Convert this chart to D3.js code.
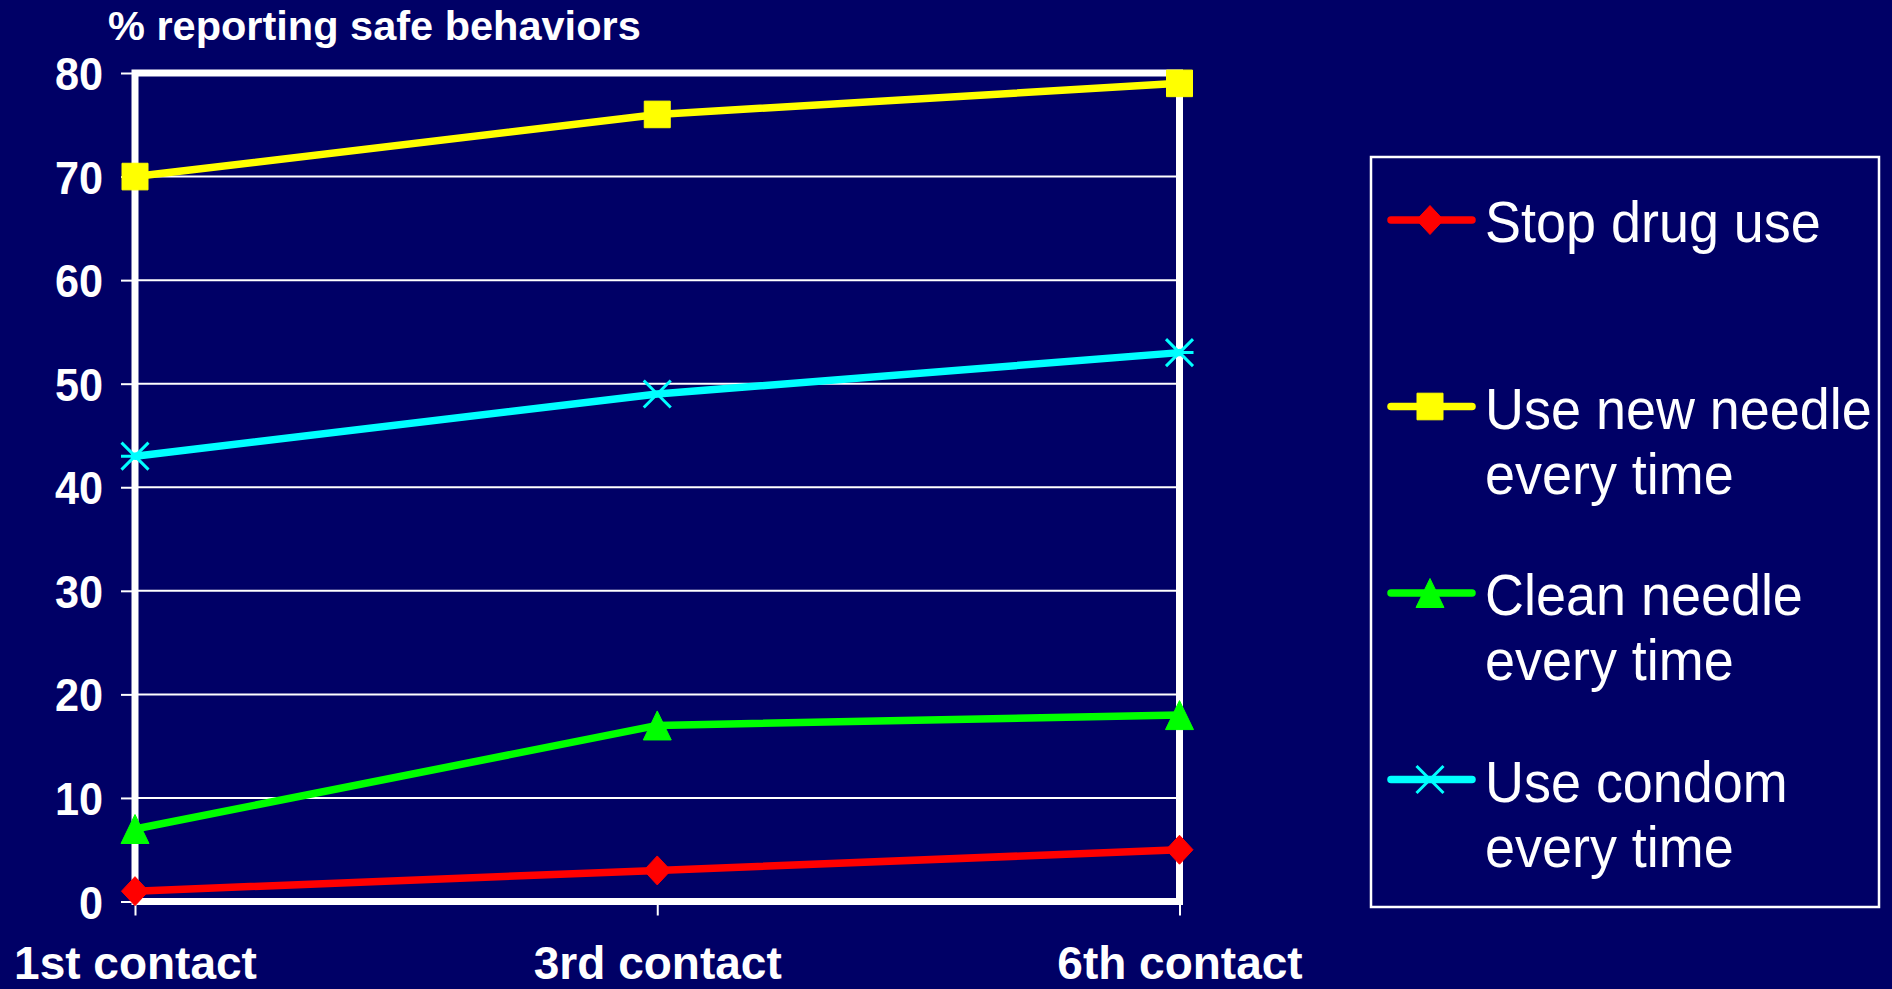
<!DOCTYPE html>
<html>
<head>
<meta charset="utf-8">
<script src="https://cdn.jsdelivr.net/npm/d3@7"></script>
<style>
  html, body { margin: 0; padding: 0; background: #000066; overflow: hidden; }
  svg { display: block; }
</style>
</head>
<body>
<svg id="chart" width="1892" height="989"></svg>
<script>
// Survey contact points
const categories = ["1st contact", "3rd contact", "6th contact"];

// % reporting each safe behavior at each contact
const stopDrugUse   = [1, 3, 5];
const newNeedle     = [70, 76, 79];
const cleanNeedle   = [7, 17, 18];
const useCondom     = [43, 49, 53];

const yTicks = [0, 10, 20, 30, 40, 50, 60, 70, 80];
const titleText = "% reporting safe behaviors";

const seriesNames = ["Stop drug use", "Use new needle every time", "Clean needle every time", "Use condom every time"];
const legendLines = [
  ["Stop drug use"],
  ["Use new needle", "every time"],
  ["Clean needle", "every time"],
  ["Use condom", "every time"]
];

const series = [
  { name: seriesNames[0], values: stopDrugUse, color: "#ff0000", marker: "diamond", legend: legendLines[0] },
  { name: seriesNames[1], values: newNeedle,   color: "#ffff00", marker: "square",  legend: legendLines[1] },
  { name: seriesNames[2], values: cleanNeedle, color: "#00ff00", marker: "triangle", legend: legendLines[2] },
  { name: seriesNames[3], values: useCondom,   color: "#00ffff", marker: "cross",   legend: legendLines[3] }
];

const svg = d3.select("#chart");
const W = 1892, H = 989;
const bg = "#000066";

svg.append("rect").attr("width", W).attr("height", H).attr("fill", bg);

// Plot frame
const plot = { left: 135, right: 1179.5, top: 73, bottom: 901.5 };

const x = d3.scalePoint().domain(categories).range([plot.left, plot.right]);
const y = d3.scaleLinear().domain([0, 80]).range([plot.bottom, plot.top]);

// Horizontal gridlines
svg.append("g")
  .selectAll("line")
  .data(yTicks.filter(t => t > 0 && t < 80))
  .join("line")
  .attr("x1", plot.left).attr("x2", plot.right)
  .attr("y1", d => y(d)).attr("y2", d => y(d))
  .attr("stroke", "#ffffff").attr("stroke-width", 2);

// Y axis: ticks and labels
const yAxis = svg.append("g")
  .attr("transform", `translate(${plot.left},0)`)
  .call(d3.axisLeft(y).tickValues(yTicks).tickSize(14).tickPadding(20).tickFormat(d3.format("d")));
yAxis.select(".domain").remove();
yAxis.selectAll(".tick line").attr("stroke", "#ffffff").attr("stroke-width", 2);
yAxis.selectAll(".tick text")
  .attr("fill", "#ffffff")
  .attr("dy", "0.36em")
  .attr("transform", "scale(0.94,1)")
  .style("font-family", "'Liberation Sans', Arial, sans-serif")
  .style("font-weight", "bold")
  .style("font-size", "46px");

// X axis: ticks and category labels
const xAxis = svg.append("g")
  .attr("transform", `translate(0,${plot.bottom})`)
  .call(d3.axisBottom(x).tickSize(14).tickPadding(0));
xAxis.select(".domain").remove();
xAxis.selectAll(".tick line").attr("stroke", "#ffffff").attr("stroke-width", 2);
xAxis.selectAll(".tick text")
  .attr("fill", "#ffffff")
  .attr("y", 77.5)
  .attr("dy", 0)
  .style("font-family", "'Liberation Sans', Arial, sans-serif")
  .style("font-weight", "bold")
  .style("font-size", "46px");

// Plot border
svg.append("rect")
  .attr("x", plot.left).attr("y", plot.top)
  .attr("width", plot.right - plot.left).attr("height", plot.bottom - plot.top)
  .attr("fill", "none").attr("stroke", "#ffffff").attr("stroke-width", 7);

// Marker shapes centred on (0,0)
function markerPath(type) {
  switch (type) {
    case "diamond":  return "M0,-14.5L13.5,0L0,14.5L-13.5,0Z";
    case "square":   return "M-13,-13.3H13V13.3H-13Z";
    case "triangle": return "M0,-14.5L14,14.5L-14,14.5Z";
    case "cross":    return "M-13.5,-13.5L13.5,13.5M-13.5,13.5L13.5,-13.5M-14,0H14";
  }
}
function drawMarker(g, type, color) {
  const p = g.append("path").attr("d", markerPath(type));
  if (type === "cross") {
    p.attr("fill", "none").attr("stroke", color).attr("stroke-width", 3);
  } else {
    p.attr("fill", color).attr("stroke", color).attr("stroke-width", 1).attr("stroke-linejoin", "round");
  }
}

// Series lines
const line = d3.line().x((d, i) => x(categories[i])).y(d => y(d));
const seriesG = svg.append("g");
series.forEach(s => {
  seriesG.append("path")
    .datum(s.values)
    .attr("d", line)
    .attr("fill", "none")
    .attr("stroke", s.color)
    .attr("stroke-width", 7.5)
    .attr("stroke-linejoin", "round")
    .attr("stroke-linecap", "round");
});
// Markers on top of all lines
series.forEach(s => {
  s.values.forEach((v, i) => {
    const g = seriesG.append("g").attr("transform", `translate(${x(categories[i])},${y(v)})`);
    drawMarker(g, s.marker, s.color);
  });
});

// Title
svg.append("text")
  .attr("x", 108).attr("y", 40)
  .attr("fill", "#ffffff")
  .style("font-family", "'Liberation Sans', Arial, sans-serif")
  .style("font-weight", "bold")
  .style("font-size", "41.5px")
  .text(titleText);

// Legend
const legend = { x: 1371, y: 157, w: 508, h: 750 };
svg.append("rect")
  .attr("x", legend.x).attr("y", legend.y)
  .attr("width", legend.w).attr("height", legend.h)
  .attr("fill", "none").attr("stroke", "#ffffff").attr("stroke-width", 2.5);

const rowY = d3.scaleLinear().domain([0, series.length - 1]).range([220, 779.5]);
series.forEach((s, i) => {
  const cy = rowY(i);
  const g = svg.append("g");
  g.append("line")
    .attr("x1", 1391).attr("x2", 1472)
    .attr("y1", cy).attr("y2", cy)
    .attr("stroke", s.color).attr("stroke-width", 7.5).attr("stroke-linecap", "round");
  const mg = g.append("g").attr("transform", `translate(1430,${cy})`);
  drawMarker(mg, s.marker, s.color);
  s.legend.forEach((txt, j) => {
    g.append("text")
      .attr("transform", `translate(1485,${cy + 22 + j * 65}) scale(0.93,1)`)
      .attr("fill", "#ffffff")
      .style("font-family", "'Liberation Sans', Arial, sans-serif")
      .style("font-size", "58px")
      .text(txt);
  });
});
</script>
</body>
</html>
